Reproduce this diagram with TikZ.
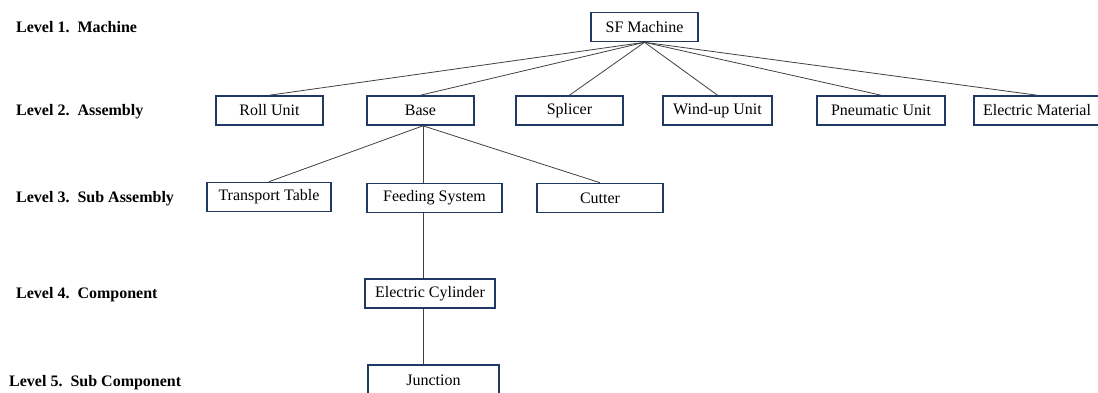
\documentclass[tikz,border=0pt]{standalone}
\usepackage{fontspec}
\setmainfont{Liberation Serif}
\usepackage{tikz}
\definecolor{boxblue}{HTML}{1F3864}
\definecolor{linegray}{HTML}{404040}

\begin{document}
\begin{tikzpicture}[x=1pt, y=-1pt, font=\fontsize{16}{19}\selectfont]
	\tikzstyle{part} = [rectangle, draw=boxblue, line width=1.6pt, minimum height=29pt, inner sep=0pt, text centered]
	\tikzstyle{level} = [anchor=west, inner sep=0pt, font=\fontsize{16}{19}\selectfont\bfseries]
	\tikzstyle{link} = [draw=linegray, line width=0.8pt]
	\useasboundingbox (0,0) rectangle (1098,392);
	% levels
	\node (level1) [level] at (16,27) {Level 1.~~Machine};
	\node (level2) [level] at (16,112) {Level 2.~~Assembly};
	\node (level3) [level] at (16,199) {Level 3.~~Sub Assembly};
	\node (level4) [level] at (16,295) {Level 4.~~Component};
	\node (level5) [level] at (9,383) {Level 5.~~Sub Component};
	% parts
	\node (sfMachine) [part, minimum width=107pt] at (644.5,27) {SF Machine};
	\node (rollUnit) [part, minimum width=107pt] at (269.5,110.5) {Roll Unit};
	\node (base) [part, minimum width=107pt] at (420.5,110.5) {Base};
	\node (splicer) [part, minimum width=107pt] at (569.5,110.5) {Splicer};
	\node (windUp) [part, minimum width=109pt] at (717.5,110.5) {Wind-up Unit};
	\node (pneumatic) [part, minimum width=128pt] at (881,110.5) {Pneumatic Unit};
	\node (electricMaterial) [part, minimum width=126pt] at (1037,110.5) {Electric Material};
	\node (transportTable) [part, minimum width=124pt] at (269,197) {Transport Table};
	\node (feeding) [part, minimum width=135pt] at (434.5,198) {Feeding System};
	\node (cutter) [part, minimum width=126pt] at (600,198) {Cutter};
	\node (cylinder) [part, minimum width=130pt] at (430,293.5) {Electric Cylinder};
	\node (junction) [part, minimum width=131pt, minimum height=30pt] at (433.5,380) {Junction};
	% links
	\draw [link] (sfMachine.south) -- (rollUnit.north);
	\draw [link] (sfMachine.south) -- (base.north);
	\draw [link] (sfMachine.south) -- (splicer.north);
	\draw [link] (sfMachine.south) -- (windUp.north);
	\draw [link] (sfMachine.south) -- (pneumatic.north);
	\draw [link] (sfMachine.south) -- (electricMaterial.north);
	\draw [link] ([xshift=2.5pt]base.south) -- (transportTable.north);
	\draw [link] ([xshift=2.5pt]base.south) -- ([xshift=2.5pt]base.south |- feeding.north);
	\draw [link] ([xshift=2.5pt]base.south) -- (cutter.north);
	\draw [link] ([xshift=2.5pt]base.south |- feeding.south) -- ([xshift=2.5pt]base.south |- cylinder.north);
	\draw [link] ([xshift=2.5pt]base.south |- cylinder.south) -- ([xshift=2.5pt]base.south |- junction.north);
\end{tikzpicture}
\end{document}
